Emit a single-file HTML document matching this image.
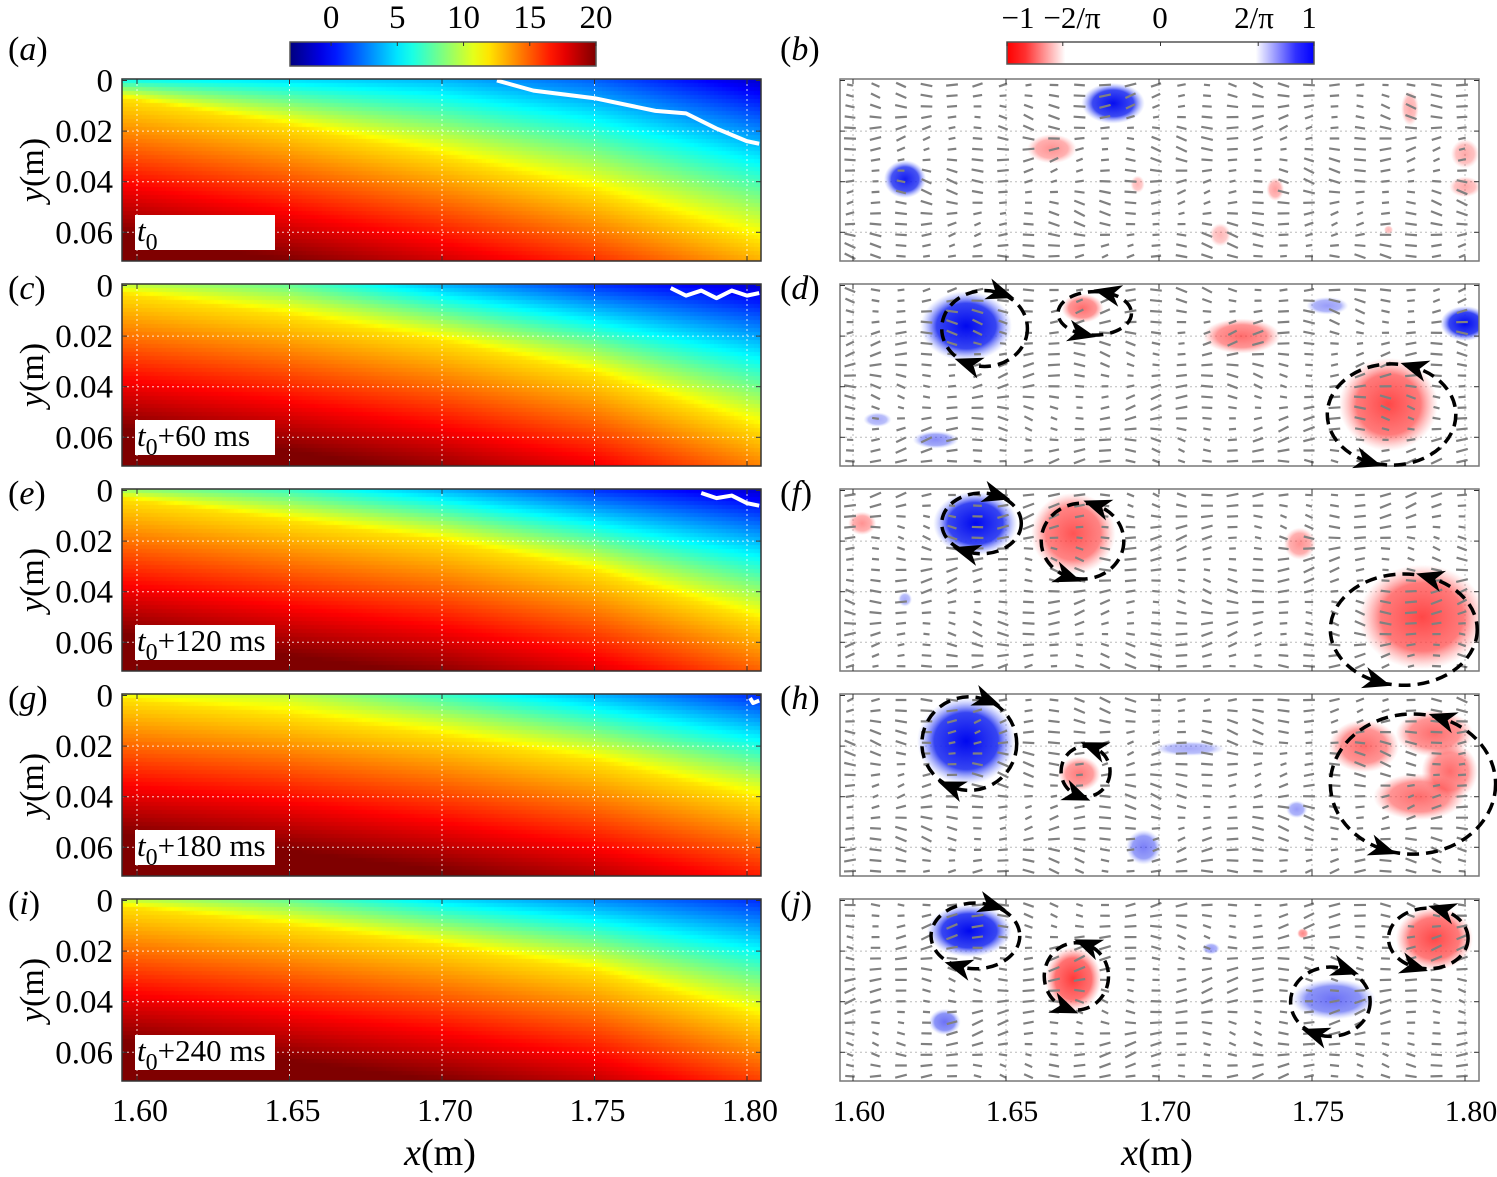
<!DOCTYPE html>
<html><head><meta charset="utf-8">
<style>
html,body{margin:0;padding:0;background:#fff;}
#wrap{position:relative;width:1497px;height:1177px;overflow:hidden;background:#fff;font-family:"Liberation Serif",serif;}
canvas{position:absolute;}
svg{position:absolute;left:0;top:0;}
</style></head>
<body>
<div id="wrap">
<canvas id="hm0" width="639" height="182" style="left:122px;top:79px"></canvas>
<canvas id="hm1" width="639" height="182" style="left:122px;top:284px"></canvas>
<canvas id="hm2" width="639" height="182" style="left:122px;top:489px"></canvas>
<canvas id="hm3" width="639" height="182" style="left:122px;top:694px"></canvas>
<canvas id="hm4" width="639" height="182" style="left:122px;top:899px"></canvas>
<svg id="svg" width="1497" height="1177" xmlns="http://www.w3.org/2000/svg"></svg>
</div>
<script>
// ---- data ----
const xTicks = [1.60, 1.65, 1.70, 1.75, 1.80];
const xTickLabels = ["1.60", "1.65", "1.70", "1.75", "1.80"];
const yTicks = [0, 0.02, 0.04, 0.06];
const yTickLabels = ["0", "0.02", "0.04", "0.06"];
const cbarTicks = [0, 5, 10, 15, 20];
const vortTickLabels = ["\u22121", "\u22122/\u03c0", "0", "2/\u03c0", "1"];
const vortTicks = [-1, -0.6366, 0, 0.6366, 1];
const leftLetters = ["(a)", "(c)", "(e)", "(g)", "(i)"];
const rightLetters = ["(b)", "(d)", "(f)", "(h)", "(j)"];
const timeLabels = ["", "+60 ms", "+120 ms", "+180 ms", "+240 ms"];
const surfaceVal = [[6,5,4,2,-1],[10,8,4,1,-1],[9,7,4,1,-1],[11,10,7,4,1],[10,8,5,3,1]];
const yellowDepth = [[0.008,0.018,0.030,0.044,0.062],[0.004,0.012,0.022,0.035,0.055],[0.004,0.012,0.020,0.032,0.050],[0.002,0.008,0.016,0.026,0.040],[0.003,0.010,0.018,0.028,0.045]];
const contours = [
 [[1.718,0],[1.73,0.004],[1.75,0.007],[1.77,0.012],[1.78,0.013],[1.79,0.019],[1.80,0.024],[1.804,0.025]],
 [[1.775,0.001],[1.78,0.004],[1.785,0.002],[1.79,0.005],[1.795,0.002],[1.80,0.004],[1.804,0.003]],
 [[1.785,0.001],[1.79,0.003],[1.795,0.002],[1.80,0.005],[1.804,0.006]],
 [[1.801,0.001],[1.802,0.003],[1.804,0.002]],
 []
];
const blobs = [
 [[1.617,0.039,0.006,0.0065,1,0.8],[1.685,0.009,0.009,0.007,1,0.85],[1.665,0.027,0.007,0.005,-1,0.45],[1.693,0.041,0.002,0.003,-1,0.3],[1.72,0.061,0.003,0.004,-1,0.3],[1.738,0.043,0.0025,0.004,-1,0.4],[1.782,0.011,0.0025,0.006,-1,0.35],[1.80,0.029,0.004,0.005,-1,0.35],[1.80,0.042,0.0045,0.0035,-1,0.35],[1.775,0.059,0.0013,0.0015,-1,0.3]],
 [[1.637,0.016,0.013,0.012,1,1],[1.675,0.009,0.006,0.005,-1,0.6],[1.727,0.02,0.011,0.006,-1,0.6],[1.755,0.008,0.006,0.003,1,0.35],[1.80,0.015,0.007,0.006,1,0.9],[1.775,0.047,0.014,0.016,-1,0.75],[1.608,0.053,0.004,0.0025,1,0.3],[1.627,0.061,0.0065,0.003,1,0.4]],
 [[1.603,0.013,0.004,0.004,-1,0.45],[1.64,0.013,0.012,0.011,1,0.95],[1.672,0.017,0.012,0.014,-1,0.7],[1.617,0.043,0.002,0.0025,1,0.3],[1.746,0.021,0.0045,0.0055,-1,0.45],[1.786,0.05,0.018,0.018,-1,0.75]],
 [[1.637,0.018,0.014,0.015,1,1],[1.674,0.031,0.006,0.006,-1,0.55],[1.71,0.021,0.01,0.0025,1,0.3],[1.745,0.045,0.003,0.003,1,0.35],[1.695,0.06,0.005,0.006,1,0.45],[1.767,0.02,0.01,0.009,-1,0.6],[1.79,0.015,0.011,0.008,-1,0.6],[1.785,0.04,0.013,0.008,-1,0.6],[1.795,0.03,0.008,0.01,-1,0.6]],
 [[1.638,0.012,0.012,0.009,1,1],[1.672,0.031,0.008,0.011,-1,0.8],[1.63,0.048,0.0045,0.0045,1,0.5],[1.717,0.019,0.0025,0.002,1,0.35],[1.747,0.013,0.0016,0.0018,-1,0.5],[1.757,0.039,0.012,0.007,1,0.5],[1.79,0.015,0.011,0.011,-1,0.75]]
];
const circles = [
 [],
 [[1.643,0.017,0.014,0.015,1],[1.679,0.011,0.012,0.0086,-1],[1.776,0.051,0.021,0.02,-1]],
 [[1.642,0.013,0.013,0.012,1],[1.675,0.02,0.0135,0.015,-1],[1.78,0.055,0.024,0.022,-1]],
 [[1.638,0.019,0.0155,0.0185,1],[1.676,0.030,0.008,0.01,-1],[1.783,0.035,0.027,0.0277,-1]],
 [[1.640,0.014,0.0145,0.013,1],[1.673,0.03,0.0105,0.0133,-1],[1.756,0.040,0.013,0.0137,1],[1.788,0.015,0.013,0.012,-1]]
];
// ---- scales ----
const rowTop = [79, 284, 489, 694, 899];
const PH = 182;
const LX0 = 122, RX0 = 840, PW = 639;
function xl(v){ return 137 + (v - 1.60) * 3050; }
function xr(v){ return 853 + (v - 1.60) * 3060; }
function yp(row, d){ return rowTop[row] + 1.5 + d * 2530; }
function clamp(v,a,b){return Math.max(a,Math.min(b,v));}
function jet(t){
  t = clamp(t,0,1);
  return [clamp(1.5-Math.abs(4*t-3),0,1)*255, clamp(1.5-Math.abs(4*t-2),0,1)*255, clamp(1.5-Math.abs(4*t-1),0,1)*255];
}
const VMIN = -3.1, VMAX = 20;
function interp(arr, v){
  const f = (v-1.60)/0.05;
  const i = clamp(Math.floor(f),0,arr.length-2);
  const t = f - i;
  return arr[i]*(1-t) + arr[i+1]*t;
}
for (let p=0;p<5;p++){
  const cv = document.getElementById('hm'+p);
  const ctx = cv.getContext('2d');
  const B = 4;
  for (let px=0; px<PW; px+=B){
    const xv = 1.60 + (px + LX0 + B/2 - 137)/3050;
    const s = interp(surfaceVal[p], xv);
    const yd = interp(yellowDepth[p], xv);
    for (let py=0; py<PH; py+=B){
      const d = (py + B/2 - 1.5)/2530;
      let v;
      if (d < yd) v = s + (12 - s) * (d/yd);
      else v = 12 + (d - yd) * 150;
      v = clamp(v, VMIN, VMAX);
      const c = jet((v - VMIN)/(VMAX - VMIN));
      ctx.fillStyle = 'rgb('+(c[0]|0)+','+(c[1]|0)+','+(c[2]|0)+')';
      ctx.fillRect(px, py, B, B);
    }
  }
}
// ---- SVG ----
const NS = "http://www.w3.org/2000/svg";
const svg = document.getElementById('svg');
function el(tag, attrs, parent){
  const e = document.createElementNS(NS, tag);
  for (const k in attrs) e.setAttribute(k, attrs[k]);
  (parent||svg).appendChild(e);
  return e;
}
function txt(x,y,s,size,anchor,parent){
  const t = el('text',{x:x,y:y,'font-size':size,'text-anchor':anchor||'middle','font-family':'"Liberation Serif", serif',fill:'#000'},parent);
  t.textContent = s;
  return t;
}
const defs = el('defs',{});
const vg = el('linearGradient',{id:'vortcb',x1:'0',x2:'1',y1:'0',y2:'0'},defs);
[['0','#ff0000'],['0.06','#ff3030'],['0.19','#ffffff'],['0.81','#ffffff'],['0.94','#3030ff'],['1','#0000ff']].forEach(s=>el('stop',{offset:s[0],'stop-color':s[1]},vg));
const jg = el('linearGradient',{id:'jetcb',x1:'0',x2:'1',y1:'0',y2:'0'},defs);
for(let i=0;i<=20;i++){const c=jet(i/20);el('stop',{offset:i/20,'stop-color':'rgb('+(c[0]|0)+','+(c[1]|0)+','+(c[2]|0)+')'},jg);}
const rg = el('radialGradient',{id:'gRed'},defs);
el('stop',{offset:'0','stop-color':'#ff2a2a','stop-opacity':'1'},rg);
el('stop',{offset:'0.65','stop-color':'#ff4a4a','stop-opacity':'0.85'},rg);
el('stop',{offset:'1','stop-color':'#ff8080','stop-opacity':'0'},rg);
const bg = el('radialGradient',{id:'gBlue'},defs);
el('stop',{offset:'0','stop-color':'#0008f0','stop-opacity':'1'},bg);
el('stop',{offset:'0.65','stop-color':'#2030f0','stop-opacity':'0.9'},bg);
el('stop',{offset:'1','stop-color':'#8090ff','stop-opacity':'0'},bg);
for(let p=0;p<5;p++){
  const c1=el('clipPath',{id:'cl'+p},defs); el('rect',{x:LX0,y:rowTop[p],width:PW,height:PH},c1);
  const c2=el('clipPath',{id:'cr'+p},defs); el('rect',{x:RX0,y:rowTop[p],width:PW,height:PH},c2);
}

const cb1 = el('rect',{x:290,y:42,width:306,height:24,fill:'url(#jetcb)',stroke:'#555','stroke-width':1.5});
 
cbarTicks.forEach((v,i)=>{
  const x = 290 + (v - VMIN)/(VMAX-VMIN)*306;
  el('line',{x1:x,x2:x,y1:42,y2:46,stroke:'#333','stroke-width':1});
  const t=txt(x,28,String(v),33);  
});
const cb2 = el('rect',{x:1007,y:42,width:307,height:22,fill:'url(#vortcb)',stroke:'#555','stroke-width':1.5});
 
const vortLabelX=[1018,1072,1160,1254,1309];
vortTicks.forEach((v,i)=>{
  const x = 1007 + (v+1)/2*307;
  el('line',{x1:x,x2:x,y1:42,y2:46,stroke:'#333','stroke-width':1});
  const t=txt(vortLabelX[i],28,vortTickLabels[i],31);  
});

for (let p=0;p<5;p++){
  const top = rowTop[p];
  const gl = el('g',{'clip-path':'url(#cl'+p+')'});
   
  xTicks.forEach(v=>el('line',{x1:xl(v),x2:xl(v),y1:top,y2:top+PH,stroke:'#fff','stroke-width':1,'stroke-dasharray':'2,3',opacity:0.8},gl));
  yTicks.slice(1).forEach(v=>el('line',{x1:LX0,x2:LX0+PW,y1:yp(p,v),y2:yp(p,v),stroke:'#fff','stroke-width':1,'stroke-dasharray':'2,3',opacity:0.8},gl));
  if (contours[p].length){
    const c = el('polyline',{points:contours[p].map(q=>xl(q[0])+','+yp(p,q[1])).join(' '),fill:'none',stroke:'#fff','stroke-width':4,'stroke-linejoin':'round'},gl);
     
  }
  const fr = el('rect',{x:LX0,y:top,width:PW,height:PH,fill:'none',stroke:'#333','stroke-width':1.5});
   
  xTicks.forEach(v=>{el('line',{x1:xl(v),x2:xl(v),y1:top+PH,y2:top+PH-5,stroke:'#333'});el('line',{x1:xl(v),x2:xl(v),y1:top,y2:top+5,stroke:'#333'});});
  yTicks.forEach((v,i)=>{
    el('line',{x1:LX0,x2:LX0+5,y1:yp(p,v),y2:yp(p,v),stroke:'#333'});
    el('line',{x1:LX0+PW,x2:LX0+PW-5,y1:yp(p,v),y2:yp(p,v),stroke:'#333'});
    const t=txt(113,yp(p,v)+11,yTickLabels[i],33,'end');  
  });
  const bx = el('rect',{x:135,y:top+136,width:140,height:35,fill:'#fff'});
   
  const tl = el('text',{x:137,y:top+162,'font-size':31,'font-family':'"Liberation Serif", serif'});
   
  const ts1 = el('tspan',{'font-style':'italic'},tl); ts1.textContent='t';
  const ts2 = el('tspan',{dy:9,'font-size':24},tl); ts2.textContent='0';
  const ts3 = el('tspan',{dy:-9},tl); ts3.textContent=timeLabels[p];
  const ya = el('text',{x:0,y:0,'font-size':34,'text-anchor':'middle','font-family':'"Liberation Serif", serif',transform:'translate(43,'+(top+91)+') rotate(-90)'});
   
  const y1=el('tspan',{'font-style':'italic'},ya); y1.textContent='y'; const y2=el('tspan',{},ya); y2.textContent='(m)';
  const ly = p===0 ? 60 : top+15;
  const la = el('text',{x:8,y:ly,'font-size':34,'font-family':'"Liberation Serif", serif'});
   
  const l1=el('tspan',{},la);l1.textContent='(';const l2=el('tspan',{'font-style':'italic'},la);l2.textContent=leftLetters[p][1];const l3=el('tspan',{},la);l3.textContent=')';
  const lb = el('text',{x:780,y:ly,'font-size':34,'font-family':'"Liberation Serif", serif'});
   
  const m1=el('tspan',{},lb);m1.textContent='(';const m2=el('tspan',{'font-style':'italic'},lb);m2.textContent=rightLetters[p][1];const m3=el('tspan',{},lb);m3.textContent=')';

  const gr = el('g',{'clip-path':'url(#cr'+p+')'});
   
  xTicks.forEach(v=>el('line',{x1:xr(v),x2:xr(v),y1:top,y2:top+PH,stroke:'#bbb','stroke-width':1,'stroke-dasharray':'2,3'},gr));
  yTicks.slice(1).forEach(v=>el('line',{x1:RX0,x2:RX0+PW,y1:yp(p,v),y2:yp(p,v),stroke:'#bbb','stroke-width':1,'stroke-dasharray':'2,3'},gr));
  blobs[p].forEach(b=>{
    const e = el('ellipse',{cx:xr(b[0]),cy:yp(p,b[1]),rx:b[2]*3060*1.15,ry:b[3]*2530*1.15,fill:b[4]>0?'url(#gBlue)':'url(#gRed)',opacity:Math.min(1,b[5]*1.15)},gr);
    
    
  });
  for (let i=0;i<25;i++){
    for (let j=0;j<17;j++){
      const cx = RX0 + 10 + i*25.5, cy = top + 6 + j*10.7;
      const a = Math.PI + 0.28*Math.sin(i*0.9 + j*0.5 + p*1.7) + 0.2*Math.cos(i*0.37 - j*0.8 + p);
      const L = 6 + 6*Math.abs(Math.sin(i*0.45 + j*0.3 + p*2.1));
      const dx = Math.cos(a)*L/2, dy = Math.sin(a)*L/2;
      el('line',{x1:cx-dx,y1:cy-dy,x2:cx+dx,y2:cy+dy,stroke:'#808080','stroke-width':2.2},gr);
    }
  }
  const fr2 = el('rect',{x:RX0,y:top,width:PW,height:PH,fill:'none',stroke:'#777','stroke-width':1.5});
   
  xTicks.forEach(v=>{el('line',{x1:xr(v),x2:xr(v),y1:top+PH,y2:top+PH-5,stroke:'#333'});el('line',{x1:xr(v),x2:xr(v),y1:top,y2:top+5,stroke:'#333'});});
  yTicks.forEach(v=>{el('line',{x1:RX0,x2:RX0+5,y1:yp(p,v),y2:yp(p,v),stroke:'#333'});el('line',{x1:RX0+PW,x2:RX0+PW-5,y1:yp(p,v),y2:yp(p,v),stroke:'#333'});});
  circles[p].forEach(c=>{
    const cx=xr(c[0]), cy=yp(p,c[1]), rx=c[2]*3060, ry=c[3]*2530;
    const e = el('ellipse',{cx:cx,cy:cy,rx:rx,ry:ry,fill:'none',stroke:'#000','stroke-width':3.5,'stroke-dasharray':'12,7'});
     
    [-1.2, 1.95].forEach(th=>{
      const px = cx + rx*Math.cos(th), py = cy + ry*Math.sin(th);
      let tx = -rx*Math.sin(th), ty = ry*Math.cos(th);
      if (c[4] < 0){ tx=-tx; ty=-ty; }
      const ang = Math.atan2(ty,tx)*180/Math.PI;
      const ah = el('polygon',{points:'15,0 -13,-11 -5,0 -13,11',fill:'#000',transform:'translate('+px+','+py+') rotate('+ang+')'});
       
    });
  });
}
xTicks.forEach((v,i)=>{
  const a=txt(xl(v)+3,1121,xTickLabels[i],32);  
  const b=txt(xr(v)+6,1121,xTickLabels[i],30);  
});
[440,1157].forEach((x,k)=>{
  const t = el('text',{x:x,y:1165,'font-size':38,'text-anchor':'middle','font-family':'"Liberation Serif", serif'});
   
  const a=el('tspan',{'font-style':'italic'},t);a.textContent='x';const b=el('tspan',{},t);b.textContent='(m)';
});
</script>
</body></html>
